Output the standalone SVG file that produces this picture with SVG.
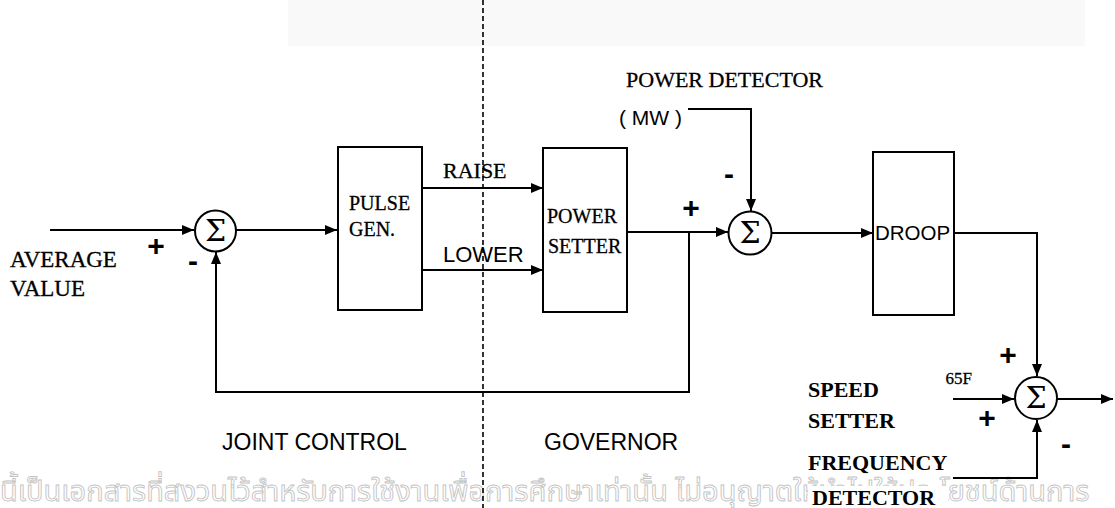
<svg xmlns="http://www.w3.org/2000/svg" width="1115" height="508" viewBox="0 0 1115 508">
<defs>
<marker id="arr" markerUnits="userSpaceOnUse" markerWidth="12" markerHeight="10" refX="12" refY="5" orient="auto">
<path d="M0,0 L12,5 L0,10 z" fill="#000"/>
</marker>
<style>
.ln{fill:none;stroke:#000;stroke-width:2}
.box{fill:#fff;stroke:#000;stroke-width:2}
.sum{fill:#fff;stroke:#000;stroke-width:2}
.t{font-family:"Liberation Serif","Times New Roman",serif;font-size:20px;fill:#000;stroke:#000;stroke-width:0.3}
.s{font-family:"Liberation Sans",Arial,sans-serif;font-size:20px;fill:#000}
.b{font-family:"Liberation Serif","Times New Roman",serif;font-size:22px;font-weight:bold;fill:#000}
.sg{font-family:"DejaVu Serif","Liberation Serif",serif;font-size:30px;fill:#000;text-anchor:middle}
.pm{font-family:"Liberation Sans",Arial,sans-serif;font-size:30px;font-weight:bold;fill:#000;text-anchor:middle}
.wm{font-family:"Noto Sans Thai","Noto Sans","DejaVu Sans",sans-serif;font-size:29px;fill:#fff;stroke:#c4c4c4;stroke-width:0.9}
</style>
</defs>
<rect x="0" y="0" width="1115" height="508" fill="#fff"/>
<rect x="288" y="0" width="797" height="46" fill="#f9f9f9"/>
<text class="wm" x="0" y="501">นี้เป็นเอกสารที่สงวนไว้สำหรับการใช้งานเพื่อการศึกษาเท่านั้น ไม่อนุญาตให้นำไปใช้ประโยชน์ด้านการ</text>
<line x1="483" y1="0" x2="483" y2="508" stroke="#000" stroke-width="1.6" stroke-dasharray="5,3"/>
<g id="connectors">
<path class="ln" d="M50,230 H194" marker-end="url(#arr)"/>
<path class="ln" d="M236,230 H337" marker-end="url(#arr)"/>
<path class="ln" d="M422,188 H543" marker-end="url(#arr)"/>
<path class="ln" d="M422,270 H543" marker-end="url(#arr)"/>
<path class="ln" d="M627,232 H728" marker-end="url(#arr)"/>
<path class="ln" d="M689,232 V392 H216 V252" marker-end="url(#arr)"/>
<path class="ln" d="M688,109 H751 V211" marker-end="url(#arr)"/>
<path class="ln" d="M771,233 H873" marker-end="url(#arr)"/>
<path class="ln" d="M954,233 H1037 V376" marker-end="url(#arr)"/>
<path class="ln" d="M953,399 H1014" marker-end="url(#arr)"/>
<path class="ln" d="M1057,399 H1113" marker-end="url(#arr)"/>
<path class="ln" d="M953,478 H1037 V420" marker-end="url(#arr)"/>
</g>
<g id="average-value">
<text class="t" x="10" y="267" style="font-size:23px">AVERAGE</text>
<text class="t" x="10" y="296" style="font-size:23px">VALUE</text>
</g>
<g id="sum1">
<circle class="sum" cx="215.5" cy="231" r="20.5"/>
<text class="sg" x="215.5" y="241">Σ</text>
<text class="pm" x="156" y="256">+</text>
<text class="pm" x="193" y="271">-</text>
</g>
<g id="pulse-gen">
<rect class="box" x="338" y="147" width="84" height="163"/>
<text class="t" x="349" y="210">PULSE</text>
<text class="t" x="349" y="236">GEN.</text>
</g>
<g id="raise-lower">
<text class="t" x="443" y="178" style="font-size:22px">RAISE</text>
<text class="s" x="443" y="262" style="font-size:22px">LOWER</text>
</g>
<g id="power-setter">
<rect class="box" x="543" y="148" width="84" height="164"/>
<text class="t" x="547" y="223">POWER</text>
<text class="t" x="548" y="253">SETTER</text>
</g>
<g id="sum2">
<circle class="sum" cx="750" cy="233" r="21.5"/>
<text class="sg" x="750" y="243">Σ</text>
<text class="pm" x="691" y="218">+</text>
<text class="pm" x="729" y="184">-</text>
</g>
<g id="power-detector">
<text class="t" x="823" y="87" text-anchor="end" style="font-size:22px">POWER DETECTOR</text>
<text class="s" x="682" y="125" text-anchor="end" style="font-size:21px">( MW )</text>
</g>
<g id="droop">
<rect class="box" x="873" y="152" width="81" height="163"/>
<text class="s" x="875" y="240" style="font-size:20.5px">DROOP</text>
</g>
<g id="sum3">
<circle class="sum" cx="1036" cy="398" r="21"/>
<text class="sg" x="1036" y="408">Σ</text>
<text class="pm" x="1008" y="365">+</text>
<text class="pm" x="987" y="428">+</text>
<text class="pm" x="1066" y="454">-</text>
<text class="t" x="972" y="384" text-anchor="end" style="font-size:17px">65F</text>
</g>
<g id="speed-setter">
<text class="b" x="808" y="397">SPEED</text>
<text class="b" x="808" y="428">SETTER</text>
</g>
<g id="frequency-detector">
<text class="b" x="808" y="470">FREQUENCY</text>
<rect x="808" y="486" width="140" height="22" fill="#fff"/>
<text class="b" x="812" y="505">DETECTOR</text>
</g>
<g id="section-labels">
<text class="s" x="222" y="450" style="font-size:23px">JOINT CONTROL</text>
<text class="s" x="544" y="450" style="font-size:23px">GOVERNOR</text>
</g>
</svg>
